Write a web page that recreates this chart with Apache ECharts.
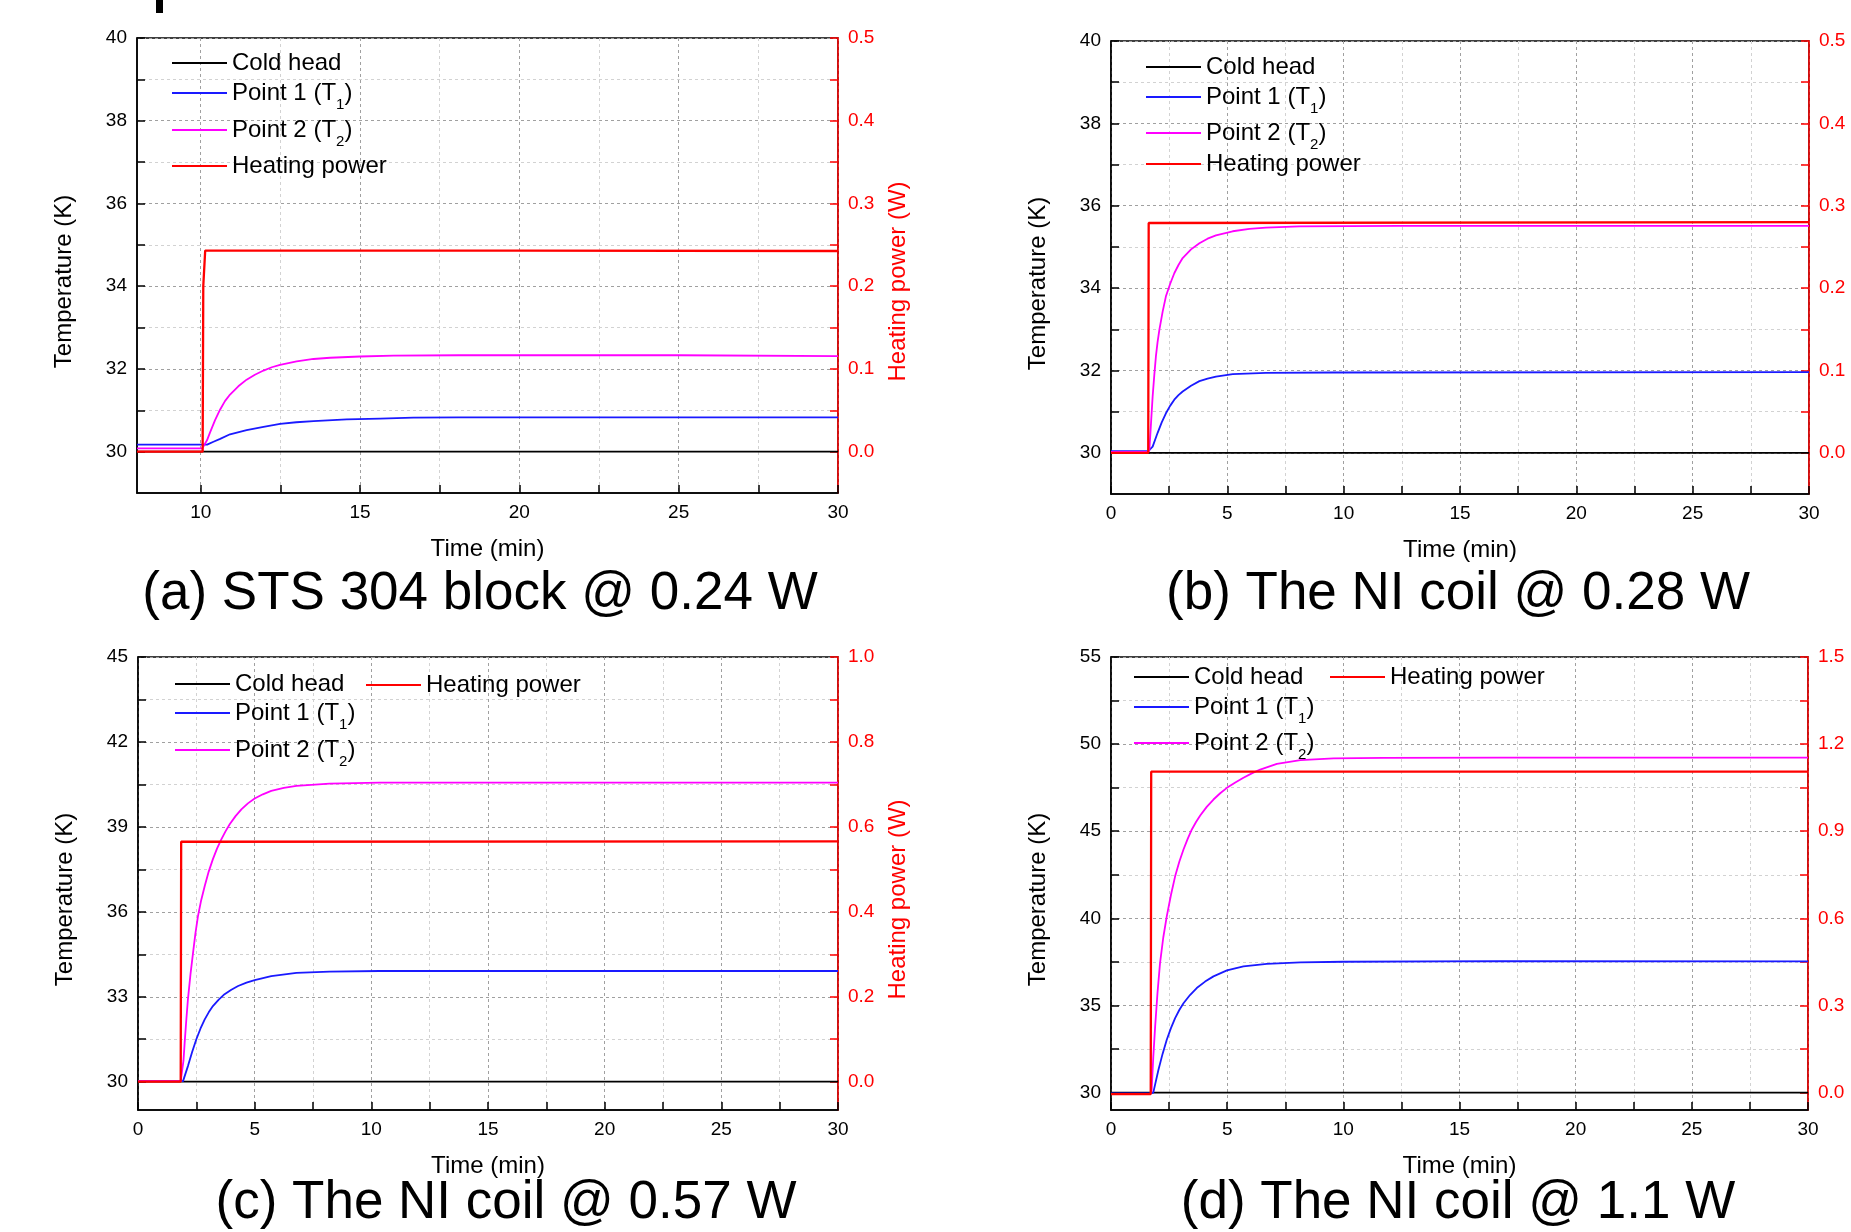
<!DOCTYPE html>
<html><head><meta charset="utf-8">
<script src="https://cdn.jsdelivr.net/npm/echarts@6/dist/echarts.min.js"></script>
<style>html,body{margin:0;padding:0;background:#fff}#c{width:1851px;height:1232px}</style>
</head><body><div id="c"></div>
<script>
// ---------------- DATA ----------------
const seriesNames = ['Cold head', 'Point 1 (T1)', 'Point 2 (T2)', 'Heating power'];
const panelTitles = ['(a) STS 304 block @ 0.24 W', '(b) The NI coil @ 0.28 W', '(c) The NI coil @ 0.57 W', '(d) The NI coil @ 1.1 W'];

// tick values / tick labels
const aTimeTicks = [10, 12.5, 15, 17.5, 20, 22.5, 25, 27.5, 30];
const aTimeLabels = [10, 15, 20, 25, 30];
const bcdTimeTicks = [0, 2.5, 5, 7.5, 10, 12.5, 15, 17.5, 20, 22.5, 25, 27.5, 30];
const bcdTimeLabels = [0, 5, 10, 15, 20, 25, 30];
const abTempTicks = [30, 31, 32, 33, 34, 35, 36, 37, 38, 39, 40];
const abTempLabels = [30, 32, 34, 36, 38, 40];
const abPowerTicks = [0, 0.05, 0.1, 0.15, 0.2, 0.25, 0.3, 0.35, 0.4, 0.45, 0.5];
const abPowerLabels = [0, 0.1, 0.2, 0.3, 0.4, 0.5];
const cTempTicks = [30, 31.5, 33, 34.5, 36, 37.5, 39, 40.5, 42, 43.5, 45];
const cTempLabels = [30, 33, 36, 39, 42, 45];
const cPowerTicks = [0, 0.1, 0.2, 0.3, 0.4, 0.5, 0.6, 0.7, 0.8, 0.9, 1.0];
const cPowerLabels = [0, 0.2, 0.4, 0.6, 0.8, 1.0];
const dTempTicks = [30, 32.5, 35, 37.5, 40, 42.5, 45, 47.5, 50, 52.5, 55];
const dTempLabels = [30, 35, 40, 45, 50, 55];
const dPowerTicks = [0, 0.15, 0.3, 0.45, 0.6, 0.75, 0.9, 1.05, 1.2, 1.35, 1.5];
const dPowerLabels = [0, 0.3, 0.6, 0.9, 1.2, 1.5];

// (a) STS 304 block @ 0.24 W   [time (min), value]
const aColdHead = [[8, 30.0], [30, 30.0]];
const aPoint1 = [[8, 30.17], [10.05, 30.17], [10.2, 30.17], [10.4, 30.24], [10.61, 30.31], [10.92, 30.42], [11.44, 30.52], [11.97, 30.60], [12.49, 30.67], [13.0, 30.71], [13.54, 30.74], [14.58, 30.78], [15.63, 30.80], [16.67, 30.82], [18.1, 30.83], [30, 30.83]];
const aPoint2 = [[8, 30.08], [10.05, 30.08], [10.1, 30.06], [10.2, 30.28], [10.29, 30.46], [10.45, 30.76], [10.61, 31.02], [10.76, 31.22], [10.92, 31.38], [11.18, 31.58], [11.44, 31.74], [11.7, 31.86], [11.97, 31.96], [12.23, 32.04], [12.49, 32.10], [13.01, 32.18], [13.54, 32.24], [14.06, 32.27], [15.0, 32.30], [16.05, 32.32], [18.1, 32.33], [25, 32.33], [30, 32.31]];
const aPower = [[8, 0.0], [10.06, 0.0], [10.08, 0.2], [10.14, 0.243], [20, 0.243], [30, 0.2425]];

// (b) NI coil @ 0.28 W
const bColdHead = [[0, 30.0], [30, 30.0]];
const bPoint1 = [[0, 30.04], [1.6, 30.04], [1.65, 30.04], [1.79, 30.15], [2.0, 30.48], [2.18, 30.74], [2.36, 30.96], [2.54, 31.14], [2.72, 31.29], [2.9, 31.40], [3.08, 31.49], [3.44, 31.63], [3.8, 31.74], [4.15, 31.80], [4.51, 31.85], [5.23, 31.91], [6.66, 31.94], [9.53, 31.95], [30, 31.96]];
const bPoint2 = [[0, 30.02], [1.6, 30.02], [1.65, 30.07], [1.72, 30.72], [1.79, 31.37], [1.86, 31.88], [1.93, 32.34], [2.0, 32.68], [2.08, 32.99], [2.22, 33.43], [2.36, 33.80], [2.54, 34.10], [2.72, 34.36], [2.9, 34.56], [3.08, 34.73], [3.44, 34.94], [3.8, 35.09], [4.15, 35.20], [4.51, 35.28], [5.23, 35.38], [5.95, 35.44], [6.66, 35.47], [8.09, 35.50], [12.4, 35.51], [30, 35.51]];
const bPower = [[0, 0.0], [1.6, 0.0], [1.62, 0.279], [30, 0.280]];

// (c) NI coil @ 0.57 W
const cColdHead = [[0, 30.0], [30, 30.0]];
const cPoint1 = [[0, 30.02], [1.83, 30.02], [1.93, 30.02], [2.14, 30.55], [2.32, 31.05], [2.5, 31.5], [2.68, 31.88], [2.86, 32.2], [3.03, 32.45], [3.21, 32.67], [3.46, 32.9], [3.71, 33.09], [4.0, 33.25], [4.29, 33.38], [4.65, 33.5], [5.0, 33.59], [5.71, 33.73], [6.79, 33.84], [8.21, 33.89], [10.36, 33.91], [30, 33.91]];
const cPoint2 = [[0, 30.02], [1.83, 30.02], [1.9, 30.08], [1.95, 30.75], [2.0, 31.38], [2.07, 32.18], [2.14, 32.91], [2.25, 33.8], [2.36, 34.56], [2.46, 35.23], [2.57, 35.85], [2.71, 36.42], [2.86, 36.91], [3.03, 37.42], [3.21, 37.86], [3.39, 38.24], [3.57, 38.56], [3.75, 38.84], [3.93, 39.09], [4.18, 39.38], [4.43, 39.62], [4.71, 39.83], [5.0, 40.0], [5.35, 40.15], [5.71, 40.27], [6.25, 40.38], [6.79, 40.45], [8.21, 40.53], [10.36, 40.56], [30, 40.56]];
const cPower = [[0, 0.0], [1.83, 0.0], [1.85, 0.565], [30, 0.566]];

// (d) NI coil @ 1.1 W
const dColdHead = [[0, 30.0], [30, 30.0]];
const dPoint1 = [[0, 29.95], [1.71, 29.95], [1.82, 30.0], [2.04, 31.3], [2.22, 32.22], [2.4, 33.03], [2.58, 33.7], [2.76, 34.27], [2.94, 34.74], [3.12, 35.13], [3.4, 35.6], [3.69, 36.0], [4.05, 36.37], [4.41, 36.67], [4.99, 37.01], [5.7, 37.24], [6.71, 37.39], [8.15, 37.47], [10.0, 37.51], [16.8, 37.55], [30, 37.53]];
const dPoint2 = [[0, 29.93], [1.71, 29.93], [1.75, 30.15], [1.82, 32.05], [1.9, 33.79], [2.0, 35.7], [2.11, 37.43], [2.25, 38.9], [2.4, 40.11], [2.58, 41.34], [2.76, 42.41], [2.94, 43.25], [3.12, 43.95], [3.3, 44.56], [3.48, 45.1], [3.66, 45.53], [3.84, 45.9], [4.12, 46.4], [4.41, 46.82], [4.7, 47.18], [4.99, 47.49], [5.35, 47.8], [5.7, 48.07], [6.06, 48.32], [6.42, 48.54], [7.14, 48.87], [8.15, 49.08], [9.58, 49.18], [11.74, 49.21], [16.8, 49.23], [30, 49.23]];
const dPower = [[0, -0.005], [1.71, -0.005], [1.73, 1.105], [30, 1.105]];

// ---------------- LAYOUT / STYLE ----------------
const FONT = '"Liberation Sans", Arial, Helvetica, sans-serif';
const COLORS = ['#000000', '#1a1aff', '#ff00ff', '#ff0000'];
const WIDTHS = [1.8, 1.8, 1.8, 2.3];

const panels = [
  { grid: { left: 137, top: 38, width: 701, height: 455 },
    x: { min: 8, max: 30, ticks: aTimeTicks, labels: aTimeLabels },
    yL: { min: 29, max: 40, ticks: abTempTicks, labels: abTempLabels },
    yR: { min: -0.05, max: 0.5, ticks: abPowerTicks, labels: abPowerLabels, name: 'Heating power (W)' },
    data: [aColdHead, aPoint1, aPoint2, aPower],
    title: [480, 594],
    legend: [[172, 63], [172, 93], [172, 130], [172, 166]] },
  { grid: { left: 1111, top: 41, width: 698, height: 453 },
    x: { min: 0, max: 30, ticks: bcdTimeTicks, labels: bcdTimeLabels },
    yL: { min: 29, max: 40, ticks: abTempTicks, labels: abTempLabels },
    yR: { min: -0.05, max: 0.5, ticks: abPowerTicks, labels: abPowerLabels, name: '' },
    data: [bColdHead, bPoint1, bPoint2, bPower],
    title: [1458, 594],
    legend: [[1146, 67], [1146, 97], [1146, 133], [1146, 164]] },
  { grid: { left: 138, top: 657, width: 700, height: 453 },
    x: { min: 0, max: 30, ticks: bcdTimeTicks, labels: bcdTimeLabels },
    yL: { min: 29, max: 45, ticks: cTempTicks, labels: cTempLabels },
    yR: { min: -1 / 15, max: 1.0, ticks: cPowerTicks, labels: cPowerLabels, name: 'Heating power (W)' },
    data: [cColdHead, cPoint1, cPoint2, cPower],
    title: [506, 1203],
    legend: [[175, 684], [175, 713], [175, 750], [366, 685]] },
  { grid: { left: 1111, top: 657, width: 697, height: 453 },
    x: { min: 0, max: 30, ticks: bcdTimeTicks, labels: bcdTimeLabels },
    yL: { min: 29, max: 55, ticks: dTempTicks, labels: dTempLabels },
    yR: { min: -0.06, max: 1.5, ticks: dPowerTicks, labels: dPowerLabels, name: '' },
    data: [dColdHead, dPoint1, dPoint2, dPower],
    title: [1458, 1203],
    legend: [[1134, 677], [1134, 707], [1134, 743], [1330, 677]] }
];

function legendFmt(name) {
  const m = name.match(/^(.*\(T)(\d)\)$/);
  if (m) return '{m|' + m[1] + '}{s|' + m[2] + '}{m|)}';
  return '{m|' + name + '}';
}
const legendTextStyle = {
  fontFamily: FONT, fontSize: 24, color: '#000', lineHeight: 38,
  rich: {
    m: { fontFamily: FONT, fontSize: 24, color: '#000', lineHeight: 38 },
    s: { fontFamily: FONT, fontSize: 15, color: '#000', lineHeight: 38, verticalAlign: 'bottom' }
  }
};

const option = {
  animation: false,
  backgroundColor: '#ffffff',
  grid: [], xAxis: [], yAxis: [], series: [], legend: [],
  graphic: [
    // stray cropped glyph fragment at the very top of the figure
    { type: 'rect', shape: { x: 156, y: 0, width: 7, height: 13 }, style: { fill: '#000' }, silent: true }
  ]
};

panels.forEach((p, i) => {
  option.grid.push(Object.assign({
    show: true, borderColor: '#000', borderWidth: 1.5, backgroundColor: 'transparent',
    containLabel: false, outerBoundsMode: 'none'
  }, p.grid));

  option.xAxis.push({
    type: 'value', gridIndex: i, min: p.x.min, max: p.x.max, position: 'bottom',
    name: 'Time (min)', nameLocation: 'middle', nameGap: 44,
    nameTextStyle: { fontFamily: FONT, fontSize: 24, color: '#000' },
    axisLine: { show: true, onZero: false, lineStyle: { color: '#000', width: 1.5 } },
    axisTick: { show: true, inside: true, length: 8, customValues: p.x.ticks, lineStyle: { color: '#000', width: 1.5 } },
    axisLabel: { show: true, margin: 10, customValues: p.x.labels, fontFamily: FONT, fontSize: 19, color: '#000',
      formatter: v => String(Math.round(v)) },
    splitLine: { show: true, lineStyle: { color: ['#a0a0a0', '#d2d2d2'], type: [3, 3], width: 1 } }
  });

  option.yAxis.push({
    type: 'value', gridIndex: i, min: p.yL.min, max: p.yL.max, position: 'left',
    name: 'Temperature (K)', nameLocation: 'middle', nameGap: 61,
    nameTextStyle: { fontFamily: FONT, fontSize: 24, color: '#000', padding: [0, 32, 0, 0] },
    axisLine: { show: true, onZero: false, lineStyle: { color: '#000', width: 1.5 } },
    axisTick: { show: true, inside: true, length: 8, customValues: p.yL.ticks, lineStyle: { color: '#000', width: 1.5 } },
    axisLabel: { show: true, margin: 10, customValues: p.yL.labels, fontFamily: FONT, fontSize: 19, color: '#000',
      formatter: v => String(Math.round(v)) },
    splitLine: { show: true, lineStyle: { color: ['#a0a0a0', '#d2d2d2'], type: [3, 3], width: 1 } }
  });

  option.yAxis.push({
    type: 'value', gridIndex: i, min: p.yR.min, max: p.yR.max, position: 'right',
    name: p.yR.name, nameLocation: 'middle', nameGap: 48,
    nameTextStyle: { fontFamily: FONT, fontSize: 24, color: '#ff0000', padding: [0, 32, 0, 0] },
    axisLine: { show: true, onZero: false, lineStyle: { color: '#ff0000', width: 1.5 } },
    axisTick: { show: true, inside: true, length: 8, customValues: p.yR.ticks, lineStyle: { color: '#ff0000', width: 1.5 } },
    axisLabel: { show: true, margin: 10, customValues: p.yR.labels, fontFamily: FONT, fontSize: 19, color: '#ff0000',
      formatter: v => Number(v).toFixed(1) },
    splitLine: { show: false }
  });

  seriesNames.forEach((name, k) => {
    option.series.push({
      type: 'line', name: name, xAxisIndex: i, yAxisIndex: k === 3 ? 2 * i + 1 : 2 * i,
      data: p.data[k], symbol: 'none', showSymbol: false, silent: true, clip: true, smooth: false,
      color: COLORS[k],
      lineStyle: { color: COLORS[k], width: WIDTHS[k] },
      itemStyle: { color: COLORS[k] },
      z: 2 + k
    });
    option.legend.push({
      data: [name], left: p.legend[k][0], top: p.legend[k][1] - 19, padding: 0,
      orient: 'horizontal', icon: 'rect', itemWidth: 55, itemHeight: 2, itemGap: 0,
      itemStyle: { borderWidth: 0 }, selectedMode: false,
      formatter: legendFmt, textStyle: legendTextStyle
    });
  });

  option.graphic.push({
    type: 'text', x: p.title[0], y: p.title[1], silent: true,
    style: { text: panelTitles[i], fontFamily: FONT, fontSize: 53, fill: '#000', align: 'center', verticalAlign: 'middle' }
  });
});

const chart = echarts.init(document.getElementById('c'), null, { renderer: 'canvas', width: 1851, height: 1232 });
chart.setOption(option);
</script>
</body></html>
